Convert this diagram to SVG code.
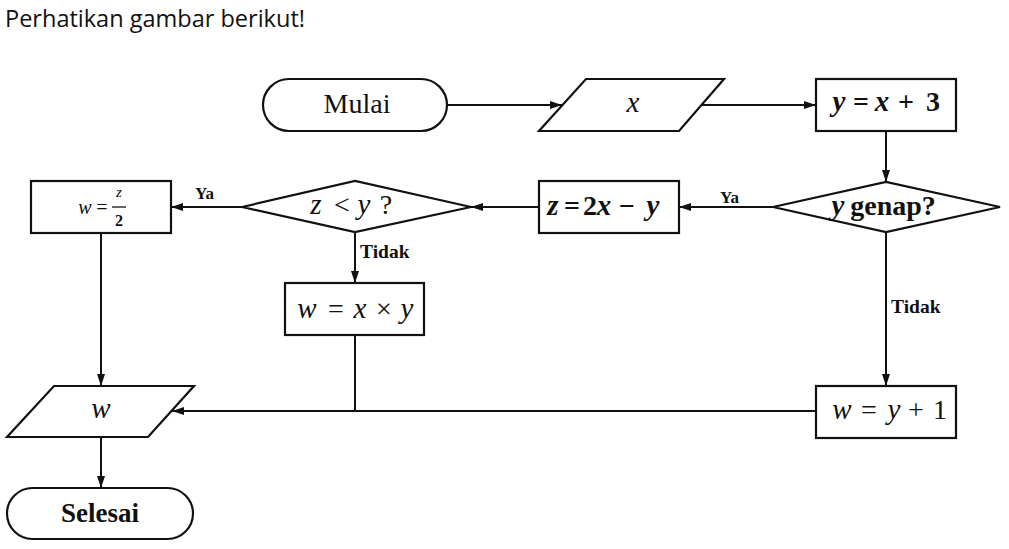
<svg xmlns="http://www.w3.org/2000/svg" width="1009" height="549" viewBox="0 0 1009 549">
<style>
.s{fill:#fff;stroke:#111;stroke-width:2.2}
.c{fill:none;stroke:#111;stroke-width:2}
text{font-family:"Liberation Serif","DejaVu Serif",serif;fill:#111}
.m{font-size:28px;text-anchor:middle}
.i{font-style:italic;font-size:29px}
.b{font-weight:bold}
.lb{font-weight:bold}
</style>
<defs>
<marker id="ah" markerWidth="12" markerHeight="8" refX="12" refY="4" orient="auto" markerUnits="userSpaceOnUse">
<path d="M0,0 L12,4 L0,8 Z" fill="#111"/>
</marker>
</defs>
<rect width="1009" height="549" fill="#fff"/>
<text x="5" y="27" style="font-family:'Open Sans','Liberation Sans',sans-serif" font-size="23" textLength="300" lengthAdjust="spacingAndGlyphs">Perhatikan gambar berikut!</text>

<g id="connectors">
<line class="c" x1="447" y1="105" x2="562" y2="105" marker-end="url(#ah)"/>
<line class="c" x1="701" y1="105" x2="816" y2="105" marker-end="url(#ah)"/>
<line class="c" x1="886" y1="131" x2="886" y2="182" marker-end="url(#ah)"/>
<line class="c" x1="773" y1="207" x2="679" y2="207" marker-end="url(#ah)"/>
<line class="c" x1="539" y1="207" x2="471" y2="207" marker-end="url(#ah)"/>
<line class="c" x1="242" y1="207" x2="171" y2="207" marker-end="url(#ah)"/>
<line class="c" x1="355" y1="232" x2="355" y2="283" marker-end="url(#ah)"/>
<line class="c" x1="886" y1="232" x2="886" y2="386" marker-end="url(#ah)"/>
<line class="c" x1="355" y1="335" x2="355" y2="411"/>
<line class="c" x1="816" y1="411" x2="172" y2="411" marker-end="url(#ah)"/>
<line class="c" x1="101" y1="233" x2="101" y2="386" marker-end="url(#ah)"/>
<line class="c" x1="101" y1="437" x2="101" y2="488" marker-end="url(#ah)"/>
<text class="lb" x="195" y="199" font-size="17">Ya</text>
<text class="lb" x="720" y="203" font-size="17">Ya</text>
<text class="lb" x="360" y="258" font-size="19.5">Tidak</text>
<text class="lb" x="891" y="313" font-size="19.5">Tidak</text>
</g>

<g id="mulai">
<rect class="s" x="263" y="79" width="184" height="52" rx="26"/>
<text x="357" y="113" font-size="28" text-anchor="middle">Mulai</text>
</g>
<g id="input-x">
<polygon class="s" points="586,79 724,79 679,131 539,131"/>
<text class="m i" x="633" y="112">x</text>
</g>
<g id="y-eq">
<rect class="s" x="816" y="79" width="140" height="52"/>
<text class="m b" y="111"><tspan class="i" x="839">y</tspan><tspan x="861">=</tspan><tspan class="i" x="882">x</tspan><tspan x="906">+</tspan><tspan x="933">3</tspan></text>
</g>
<g id="y-genap">
<polygon class="s" points="773,207 886,182 1000,207 886,232"/>
<text class="m b" y="215"><tspan class="i" x="838">y</tspan><tspan x="893">genap?</tspan></text>
</g>
<g id="z-eq">
<rect class="s" x="539" y="181" width="140" height="52"/>
<text class="m b" y="215"><tspan class="i" x="553">z</tspan><tspan x="572">=</tspan><tspan x="590">2</tspan><tspan class="i" x="604">x</tspan><tspan x="627">−</tspan><tspan class="i" x="653">y</tspan></text>
</g>
<g id="z-lt-y">
<polygon class="s" points="242,207 355,181 471,207 355,232"/>
<text class="m" y="214"><tspan class="i" x="316">z</tspan><tspan x="342">&lt;</tspan><tspan class="i" x="364">y</tspan><tspan x="386">?</tspan></text>
</g>
<g id="w-half">
<rect class="s" x="31" y="181" width="140" height="52"/>
<text class="i" x="85" y="214" style="font-size:20px" text-anchor="middle">w</text>
<text x="102" y="214" font-size="20" text-anchor="middle">=</text>
<text class="i" x="119" y="197" style="font-size:15px" text-anchor="middle">z</text>
<line x1="112" y1="207" x2="126" y2="207" stroke="#111" stroke-width="1.3"/>
<text class="b" x="119" y="226" font-size="16" text-anchor="middle">2</text>
</g>
<g id="w-xy">
<rect class="s" x="285" y="283" width="139" height="52"/>
<text class="m" y="318"><tspan class="i" x="307">w</tspan><tspan x="336">=</tspan><tspan class="i" x="360">x</tspan><tspan x="384">×</tspan><tspan class="i" x="407">y</tspan></text>
</g>
<g id="w-y1">
<rect class="s" x="816" y="386" width="140" height="52"/>
<text class="m" y="419"><tspan class="i" x="842">w</tspan><tspan x="869">=</tspan><tspan class="i" x="894">y</tspan><tspan x="916">+</tspan><tspan x="940">1</tspan></text>
</g>
<g id="output-w">
<polygon class="s" points="54,386 194,386 148,437 7,437"/>
<text class="m i" x="101" y="418">w</text>
</g>
<g id="selesai">
<rect class="s" x="7" y="488" width="186" height="51" rx="25.5"/>
<text class="b" x="100" y="522" font-size="27" text-anchor="middle">Selesai</text>
</g>
</svg>
